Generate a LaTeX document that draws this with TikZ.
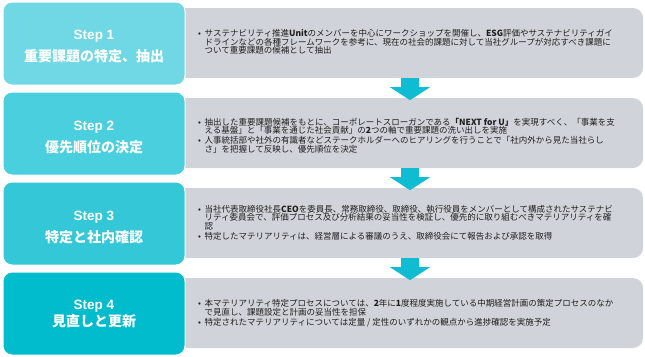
\documentclass[tikz,border=0pt]{standalone}
\usepackage{fontspec}
\setmainfont{Liberation Sans}
\newfontfamily\jp{Noto Sans CJK JP}
\usetikzlibrary{calc}
\definecolor{cone}{HTML}{70D8E4}
\definecolor{ctwo}{HTML}{4ACFDE}
\definecolor{cthree}{HTML}{33C7D8}
\definecolor{cfour}{HTML}{00BCCD}
\definecolor{arrowc}{HTML}{10BCD2}
\definecolor{grayc}{HTML}{D0D4DA}
\definecolor{textc}{HTML}{1E1E1E}
\newcommand\mybul{\makebox[6.5pt][l]{•}}
\newcommand\myind{\hspace*{6.5pt}}
\begin{document}
\begin{tikzpicture}[x=1pt,y=-1pt,
  stepbox/.style={draw=white, line width=1pt, rounded corners=9pt, minimum width=182pt, minimum height=83pt, inner sep=0pt},
  steptext/.style={text=white, align=center, inner sep=0pt, font=\bfseries\fontsize{13.5}{20}\selectfont},
  graybox/.style={fill=grayc, rounded corners=10pt, minimum width=473pt, minimum height=70pt, inner sep=0pt},
  body/.style={anchor=west, inner sep=0pt, align=left, text=textc, font=\jp\fontsize{8.5}{8.6}\selectfont},
  blockarrow/.style={fill=arrowc}
]
\useasboundingbox (0,0) rectangle (645,356);
% gray boxes
\node[graybox] (g1) at (406.5,43) {};
\node[graybox] (g2) at (406.5,133) {};
\node[graybox] (g3) at (406.5,223) {};
\node[graybox] (g4) at (406.5,313) {};
% step boxes
\node[stepbox, fill=cone] (s1) at (94,43.5) {};
\node[stepbox, fill=ctwo] (s2) at (94,133.5) {};
\node[stepbox, fill=cthree] (s3) at (94,223.5) {};
\node[stepbox, fill=cfour] (s4) at (94,313.5) {};
\node[steptext] (t1) at ([yshift=-3.5pt]s1.center) {Step 1\\[2pt]{\jp\bfseries\fontsize{14}{20}\selectfont 重要課題の特定、抽出}};
\node[steptext] (t2) at ([yshift=-3.5pt]s2.center) {Step 2\\[2pt]{\jp\bfseries\fontsize{14}{20}\selectfont 優先順位の決定}};
\node[steptext] (t3) at ([yshift=-3.5pt]s3.center) {Step 3\\[2pt]{\jp\bfseries\fontsize{14}{20}\selectfont 特定と社内確認}};
\node[steptext] (t4) at ([yshift=-0.5pt]s4.center) {Step 4\\[-3pt]{\jp\bfseries\fontsize{14}{20}\selectfont 見直しと更新}};
% arrows
\foreach \a in {g1,g2,g3}{
  \fill[blockarrow] ($(\a.south)+(-5.5,0)$) -- ++(18,0) -- ++(0,9) -- ++(11,0) -- ($(\a.south)+(3.5,22)$) -- ++(-20,-13) -- ++(11,0) -- cycle;
}
% body texts
\node[body] (b1) at (198,42) {\mybul サステナビリティ推進\textbf{Unit}のメンバーを中心にワークショップを開催し、\textbf{ESG}評価やサステナビリティガイ\\
\myind ドラインなどの各種フレームワークを参考に、現在の社会的課題に対して当社グループが対応すべき課題に\\
\myind ついて重要課題の候補として抽出};
\node[body] (b2) at (198,135.5) {\mybul 抽出した重要課題候補をもとに、コーポレートスローガンである\textbf{「NEXT for U」}を実現すべく、「事業を支\\
\myind える基盤」と「事業を通じた社会貢献」の\textbf{2}つの軸で重要課題の洗い出しを実施\\[1.5pt]
\mybul 人事統括部や社外の有識者などステークホルダーへのヒアリングを行うことで「社内外から見た当社らし\\
\myind さ」を把握して反映し、優先順位を決定};
\node[body] (b3) at (198,222.5) {\mybul 当社代表取締役社長\textbf{CEO}を委員長、常務取締役、取締役、執行役員をメンバーとして構成されたサステナビ\\
\myind リティ委員会で、評価プロセス及び分析結果の妥当性を検証し、優先的に取り組むべきマテリアリティを確\\
\myind 認\\[1.5pt]
\mybul 特定したマテリアリティは、経営層による審議のうえ、取締役会にて報告および承認を取得};
\node[body] (b4) at (198,313) {\mybul 本マテリアリティ特定プロセスについては、\textbf{2}年に\textbf{1}度程度実施している中期経営計画の策定プロセスのなか\\
\myind で見直し、課題設定と計画の妥当性を担保\\[1.5pt]
\mybul 特定されたマテリアリティについては定量 / 定性のいずれかの観点から進捗確認を実施予定};
\end{tikzpicture}
\end{document}
